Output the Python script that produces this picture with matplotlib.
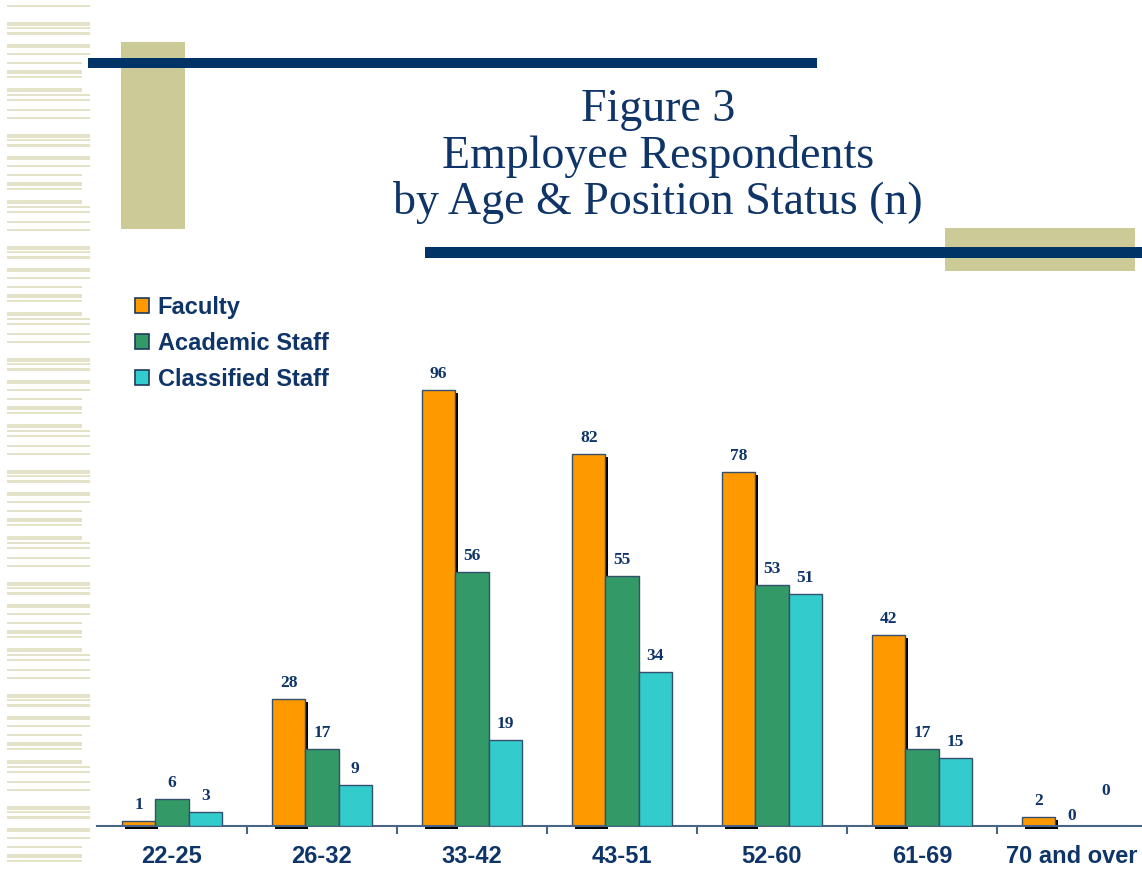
import matplotlib
matplotlib.use("Agg")
import matplotlib.pyplot as plt
from matplotlib.patches import Rectangle
import numpy as np

# ---- data -------------------------------------------------------------
age_groups = ["22-25", "26-32", "33-42", "43-51", "52-60", "61-69", "70 and over"]
faculty = [1, 28, 96, 82, 78, 42, 2]
academic_staff = [6, 17, 56, 55, 53, 17, 0]
classified_staff = [3, 9, 19, 34, 51, 15, 0]
series_names = ["Faculty", "Academic Staff", "Classified Staff"]
series_colors = ["#FF9900", "#339966", "#33CCCC"]

title_lines = ["Figure 3", "Employee Respondents", "by Age & Position Status (n)"]

NAVY = "#003366"
TEXT = "#0E3468"
BEIGE = "#CCCB98"
STRIPE = "#E4E2C8"
EDGE = "#34506E"

W, H = 1142, 872
fig = plt.figure(figsize=(W / 100, H / 100), dpi=100)

# ---- background decoration in pixel coordinates ------------------------
bg = fig.add_axes([0, 0, 1, 1], zorder=0)
bg.set_xlim(0, W)
bg.set_ylim(H, 0)
bg.axis("off")

# striped margin on the left
motif = [(0, 2, 90), (17, 4, 90), (22, 2, 90), (27, 3, 90), (39, 4, 90),
         (48, 2, 90), (57, 2, 82), (65, 4, 82), (71, 2, 82), (83, 4, 82),
         (89, 2, 90), (94, 2, 90), (104, 2, 90)]
period = 112
for start in range(5, H, period):
    for off, h, right in motif:
        y = start + off
        if y + h < H:
            bg.add_patch(Rectangle((7, y), right - 7, h, color=STRIPE, lw=0))

bg.add_patch(Rectangle((121, 42), 64, 187, color=BEIGE, lw=0))
bg.add_patch(Rectangle((88, 58), 729, 10, color=NAVY, lw=0))
bg.add_patch(Rectangle((945, 228), 190, 43, color=BEIGE, lw=0))
bg.add_patch(Rectangle((425, 247), 717, 11, color=NAVY, lw=0))

for i, line in enumerate(title_lines):
    bg.text(658, 110 + i * 46, line, ha="center", va="center",
            fontsize=33, family="Liberation Serif", color=TEXT)

# ---- bar chart ---------------------------------------------------------
ax = fig.add_axes([97 / W, (H - 826) / H, (W - 97) / W, (826 - 372) / H], zorder=1)
ax.patch.set_alpha(0)

x = np.arange(len(age_groups))
bw = 0.222
values = [faculty, academic_staff, classified_staff]
offsets = [-bw, 0, bw]

# drop shadow behind the faculty bars
px_x = 1 / 150.0          # one pixel in x data units
px_y = 100 / 454.0        # one pixel in y data units
ax.bar(x + offsets[0] + 3 * px_x, faculty, bw, bottom=-3 * px_y,
       color="black", lw=0, zorder=1, clip_on=False)

for k, (vals, off, col, name) in enumerate(zip(values, offsets, series_colors, series_names)):
    ax.bar(x + off, vals, bw, color=col, edgecolor=EDGE, lw=1.0,
           zorder=2 + k, label=name)

# value labels (pixel offsets above the bar top)
label_nudge = {(1, 6): 10, (2, 6): 35}
for k, (vals, off) in enumerate(zip(values, offsets)):
    for i, v in enumerate(vals):
        dy = label_nudge.get((k, i), 16)
        ax.text(x[i] + off, v + dy * px_y, str(v), ha="center", va="center",
                fontsize=12.5, fontweight="bold", family="Liberation Serif",
                color=TEXT, zorder=10, clip_on=False)

ax.set_xlim(-0.5, -0.5 + (W - 97) / 150)
ax.set_ylim(0, 100)
for s in ["top", "right", "left"]:
    ax.spines[s].set_visible(False)
ax.spines["bottom"].set_color("#4A6485")
ax.spines["bottom"].set_linewidth(1.5)
ax.set_yticks([])

ax.set_xticks(x[:-1] + 0.5)
ax.tick_params(axis="x", which="major", length=6, width=1.5, color="#4A6485",
               labelbottom=False)
ax.set_xticks(x, minor=True)
ax.set_xticklabels(age_groups, minor=True)
ax.tick_params(axis="x", which="minor", length=0, pad=14)
for lbl in ax.get_xticklabels(minor=True):
    lbl.set_fontsize(17)
    lbl.set_fontweight("bold")
    lbl.set_family("Liberation Sans")
    lbl.set_color(TEXT)

leg_handles = [Rectangle((0, 0), 1, 1, facecolor=c, edgecolor="#1F3A5F", lw=1.2)
               for c in series_colors]
leg = ax.legend(leg_handles, series_names, loc="upper left",
                bbox_to_anchor=(135 / W, 1 - 296 / H), bbox_transform=fig.transFigure,
                frameon=False, borderpad=0, borderaxespad=0,
                handlelength=0.58, handleheight=0.58, handletextpad=0.38,
                labelspacing=0.55,
                prop={"family": "Liberation Sans", "weight": "bold", "size": 17})
for t in leg.get_texts():
    t.set_color(TEXT)

fig.savefig("out.png", dpi=100)
